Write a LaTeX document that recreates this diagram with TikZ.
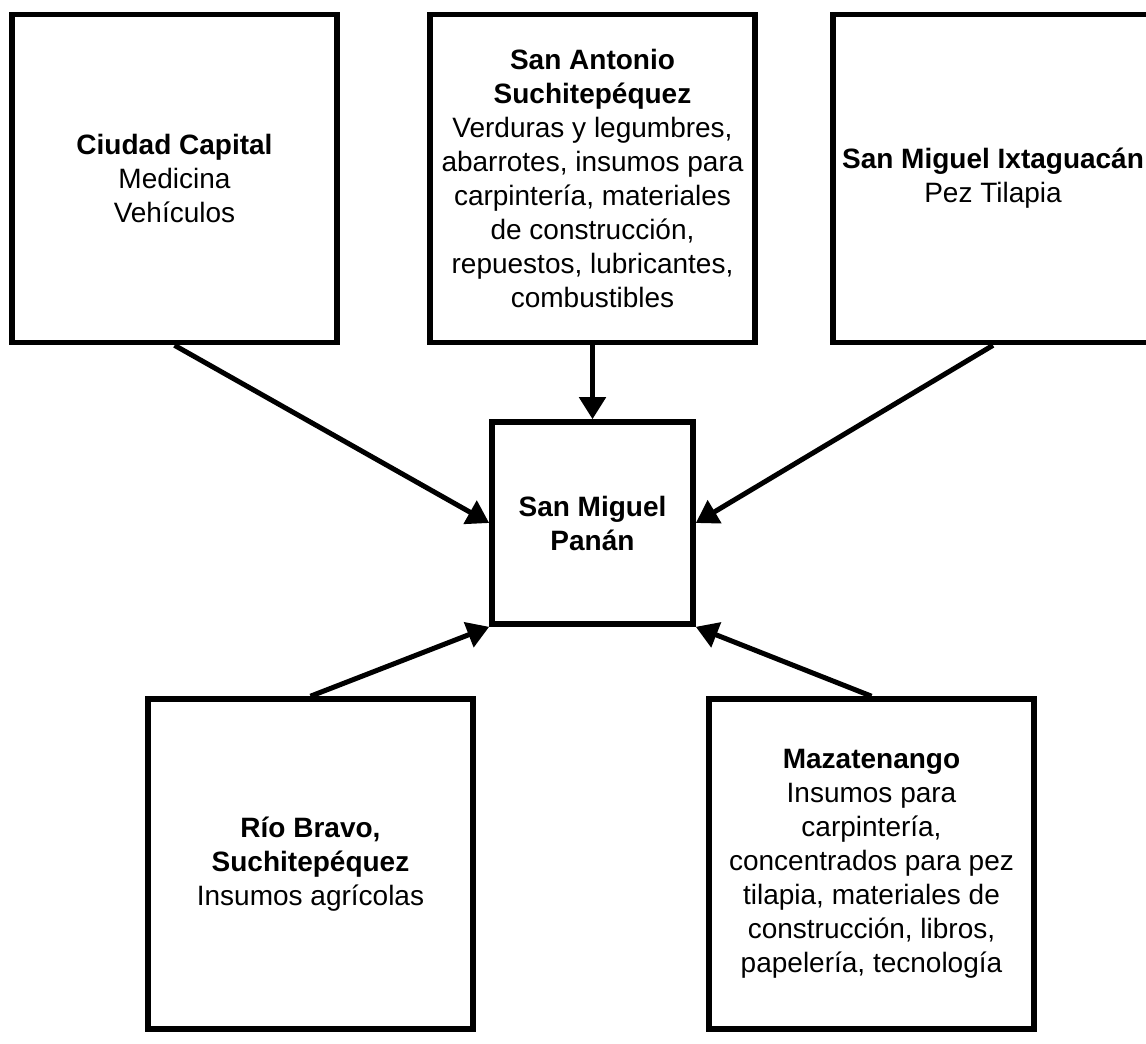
\documentclass[tikz,border=0pt]{standalone}
\usepackage{fontspec}
\setmainfont{Liberation Sans}
\usetikzlibrary{arrows.meta}

\tikzset{
  place/.style={draw, line width=2.8pt, inner sep=0pt, align=center,
    minimum width=162.5pt, minimum height=164pt,
    font=\fontsize{14}{17}\selectfont},
  flow/.style={line width=2.5pt, -{Triangle[length=11pt,width=13pt]}}
}

\begin{document}
\begin{tikzpicture}[x=0.5pt, y=-0.5pt]
\clip (0,0) rectangle (1146,1044);
\node[place] (capital) at (174.5,178.5) {\textbf{Ciudad Capital}\\Medicina\\Vehículos};
\node[place] (antonio) at (592.5,178.5) {\textbf{San Antonio}\\\textbf{Suchitepéquez}\\Verduras y legumbres,\\abarrotes, insumos para\\carpintería, materiales\\de construcción,\\repuestos, lubricantes,\\combustibles};
\node[place, minimum width=160pt] (ixtagua) at (993,178.5) {\textbf{San Miguel Ixtaguacán}\\Pez Tilapia};
\node[place, minimum width=100.5pt, minimum height=101pt] (panan) at (592.5,523) {\textbf{San Miguel}\\\textbf{Panán}};
\node[place, minimum height=165pt] (rio) at (310.5,864) {\textbf{Río Bravo,}\\\textbf{Suchitepéquez}\\Insumos agrícolas};
\node[place, minimum height=165pt] (maza) at (871.5,864) {\textbf{Mazatenango}\\Insumos para\\carpintería,\\concentrados para pez\\tilapia, materiales de\\construcción, libros,\\papelería, tecnología};

\draw[flow] (capital.south) -- (panan.west);
\draw[flow] (antonio.south) -- (panan.north);
\draw[flow] (ixtagua.south) -- (panan.east);
\draw[flow] (rio.north) -- (panan.south west);
\draw[flow] (maza.north) -- (panan.south east);
\end{tikzpicture}
\end{document}
